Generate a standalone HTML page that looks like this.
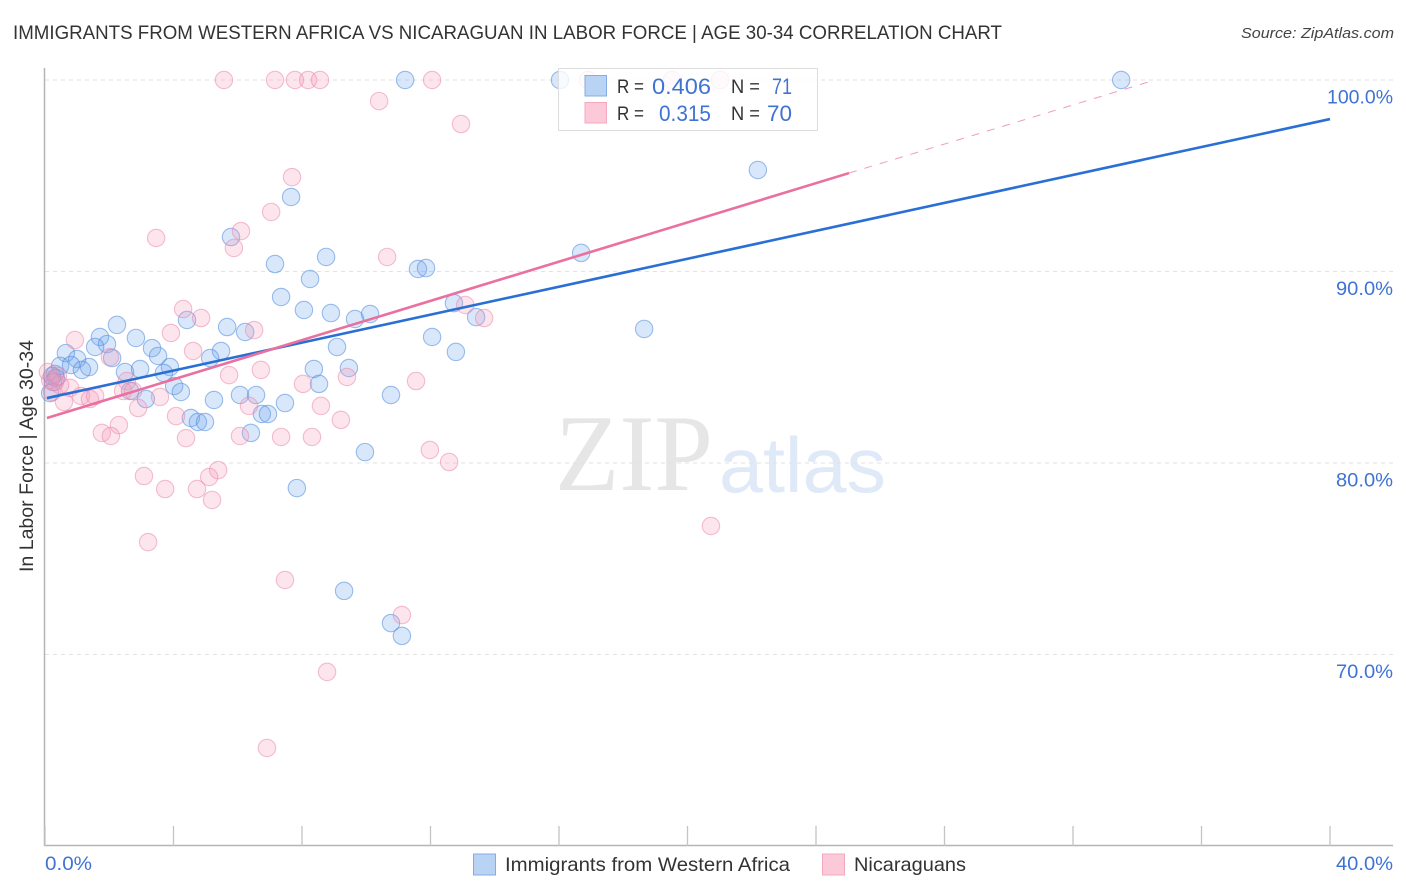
<!DOCTYPE html>
<html lang="en">
<head>
<meta charset="utf-8">
<title>Immigrants from Western Africa vs Nicaraguan in Labor Force | Age 30-34 Correlation Chart</title>
<style>
html,body{margin:0;padding:0;background:#fff;}
svg{display:block;font-family:"Liberation Sans",sans-serif;}
</style>
</head>
<body>
<svg id="chart" xmlns="http://www.w3.org/2000/svg" width="1406" height="892" viewBox="0 0 1406 892">
  <rect x="0" y="0" width="1406" height="892" fill="#ffffff"/>
  <text x="13" y="39" font-size="19" fill="#333333" textLength="989" lengthAdjust="spacingAndGlyphs">IMMIGRANTS FROM WESTERN AFRICA VS NICARAGUAN IN LABOR FORCE | AGE 30-34 CORRELATION CHART</text>
  <text x="1241" y="38" font-size="15" font-style="italic" fill="#444444" textLength="153" lengthAdjust="spacingAndGlyphs">Source: ZipAtlas.com</text>
  <g>
    <text x="555" y="490" font-family="'Liberation Serif',serif" font-size="109" fill="#e6e6e6" textLength="158" lengthAdjust="spacingAndGlyphs">ZIP</text>
    <text x="719" y="492" font-size="78" fill="#dfe9f8" textLength="167" lengthAdjust="spacingAndGlyphs">atlas</text>
  </g>
  <g id="grid"></g>
  <g id="axes"></g>
  <text transform="translate(33,572) rotate(-90)" font-size="19" fill="#333333" textLength="232" lengthAdjust="spacingAndGlyphs">In Labor Force | Age 30-34</text>
  <g id="points-blue"></g>
  <g id="points-pink"></g>
  <g id="trends"></g>
  <g>
    <rect x="558.5" y="68.5" width="259" height="62" fill="#ffffff" fill-opacity="0.8" stroke="#dddddd" stroke-width="1"/>
    <rect x="585" y="75.5" width="21.5" height="20.5" fill="#b9d3f5" stroke="#85ace4" stroke-width="1"/>
    <rect x="585" y="102.5" width="21.5" height="20.5" fill="#fcc9d8" stroke="#f3a9c2" stroke-width="1"/>
    <text x="617" y="93" font-size="19" fill="#333333" textLength="27" lengthAdjust="spacingAndGlyphs">R =</text>
    <text x="652" y="94" font-size="22" fill="#3f73d3" textLength="59" lengthAdjust="spacingAndGlyphs">0.406</text>
    <text x="731" y="93" font-size="19" fill="#333333" textLength="29" lengthAdjust="spacingAndGlyphs">N =</text>
    <text x="772" y="94" font-size="22" fill="#3f73d3" textLength="20" lengthAdjust="spacingAndGlyphs">71</text>
    <text x="617" y="120" font-size="19" fill="#333333" textLength="27" lengthAdjust="spacingAndGlyphs">R =</text>
    <text x="659" y="121" font-size="22" fill="#3f73d3" textLength="52" lengthAdjust="spacingAndGlyphs">0.315</text>
    <text x="731" y="120" font-size="19" fill="#333333" textLength="29" lengthAdjust="spacingAndGlyphs">N =</text>
    <text x="767" y="121" font-size="22" fill="#3f73d3" textLength="25" lengthAdjust="spacingAndGlyphs">70</text>
  </g>
  <g>
    <rect x="473.5" y="854" width="22" height="21" fill="#b9d3f5" stroke="#85ace4" stroke-width="1"/>
    <text x="505" y="871" font-size="19.5" fill="#333333" textLength="285" lengthAdjust="spacingAndGlyphs">Immigrants from Western Africa</text>
    <rect x="822.5" y="854" width="22" height="21" fill="#fcc9d8" stroke="#f3a9c2" stroke-width="1"/>
    <text x="854" y="871" font-size="19.5" fill="#333333" textLength="112" lengthAdjust="spacingAndGlyphs">Nicaraguans</text>
  </g>
</svg>
<script>
const xTickValues = [0,4,8,12,16,20,24,28,32,36,40];
const xEdgeLabels = ["0.0%","40.0%"];
const yTickValues = [100,90,80,70];
const yTickLabels = ["100.0%","90.0%","80.0%","70.0%"];

const blueX = [33.50,11.21,16.03,22.19,7.66,5.79,16.69,8.75,7.16,11.61,11.86,8.25,7.35,8.06,8.90,9.65,10.12,12.73,13.42,18.65,4.42,5.67,6.23,2.24,1.71,2.83,1.93,1.56,12.05,9.09,12.79,3.33,0.65,3.52,1.00,5.48,5.14,2.09,0.47,0.81,1.37,1.15,2.49,2.96,3.89,3.70,8.37,9.46,0.31,0.22,0.34,8.53,4.02,4.23,10.77,6.07,6.57,3.14,2.65,5.26,7.47,6.75,6.94,4.54,4.76,4.98,6.41,9.96,7.84,9.31,10.77,11.11,0.16,0.25];
const blueY = [100,100,100,95.30,93.89,91.80,90.97,90.76,90.39,90.13,90.18,89.61,88.67,87.99,87.83,87.52,87.78,88.35,87.62,87.00,87.47,87.10,86.84,87.21,86.58,86.53,86.21,86.06,86.58,86.06,85.80,86.00,85.74,85.59,85.43,85.85,85.48,85.48,85.07,85.12,85.01,84.86,84.75,84.91,85.01,84.70,84.91,84.96,84.65,84.54,84.44,84.13,84.02,83.71,83.55,83.55,83.55,83.34,83.76,83.29,83.13,82.56,82.56,82.35,82.14,82.14,81.57,80.57,78.69,73.32,71.64,70.97,83.65,84.23];

const pinkX = [5.57,7.16,7.78,8.19,8.56,12.05,16.90,19.52,21.01,10.40,12.95,7.69,7.04,6.10,3.46,5.88,10.65,13.08,4.30,4.86,13.67,3.92,6.51,0.93,4.61,2.02,5.73,6.72,8.03,9.40,11.55,2.55,2.43,2.74,8.59,9.21,4.08,6.35,2.90,3.58,0.59,0.78,1.12,1.40,1.56,0.47,0.31,0.16,0.09,0.40,0.22,2.30,1.77,2.05,4.39,6.07,7.35,8.31,11.98,12.58,3.08,5.11,5.39,3.74,4.73,5.20,3.21,20.73,7.47,11.11,8.78,6.91];
const pinkY = [100,100,100,100,100,100,100,100,100,98.90,97.70,94.93,93.11,92.11,91.75,91.23,90.76,88.25,88.04,87.57,87.57,86.79,86.94,86.42,85.85,85.53,84.59,84.86,84.13,84.49,84.28,84.28,83.76,83.76,82.98,82.25,82.45,82.98,82.87,83.45,83.19,83.92,83.50,83.34,83.50,84.07,84.23,84.33,84.75,84.54,83.71,81.98,81.57,81.41,81.30,81.41,81.36,81.36,80.68,80.05,79.32,79.27,79.63,78.64,78.64,78.07,75.87,76.71,73.89,72.06,69.09,65.12];

const blueTrendX = [0.06,40];
const blueTrendY = [83.39,97.96];
const pinkTrendX = [0.06,25.03];
const pinkTrendY = [82.35,95.14];
const pinkDashX = [25.03,34.55];
const pinkDashY = [95.14,100];

const SVGNS = "http://www.w3.org/2000/svg";
function xScale(v){ return 45 + v * 32.125; }
function yScale(v){ return 80 + (100 - v) * 19.15; }
function make(tag, parent, attrs){
  const el = document.createElementNS(SVGNS, tag);
  for (const k in attrs) el.setAttribute(k, attrs[k]);
  parent.appendChild(el);
  return el;
}

const grid = document.getElementById("grid");
yTickValues.forEach(function(v){
  const line = make("line", grid, {x1:45, x2:1393, y1:yScale(v), y2:yScale(v), stroke:"#e2e2e2", "stroke-width":1, "stroke-dasharray":"4 4"});
  
  
});

const axes = document.getElementById("axes");
const yAxisLine = make("line", axes, {x1:44.5, x2:44.5, y1:68, y2:846, stroke:"#b5b5b5", "stroke-width":1.5});


const xAxisLine = make("line", axes, {x1:44, x2:1393, y1:845.5, y2:845.5, stroke:"#b5b5b5", "stroke-width":1.5});


xTickValues.forEach(function(v){
  const t = make("line", axes, {x1:xScale(v), x2:xScale(v), y1:826, y2:846, stroke:"#c4c4c4", "stroke-width":1.3});
  
  
});
yTickValues.forEach(function(v, i){
  const t = make("text", axes, {x:1393, y:yScale(v)+23.4, "text-anchor":"end", "font-size":19.5, fill:"#3f73d3", textLength:yTickLabels[i].length === 6 ? 66 : 57, lengthAdjust:"spacingAndGlyphs"});
  t.textContent = yTickLabels[i];
  
  
});
const xLabelLeft = make("text", axes, {x:45, y:870, "font-size":19.5, fill:"#3f73d3", textLength:47, lengthAdjust:"spacingAndGlyphs"});
xLabelLeft.textContent = xEdgeLabels[0];


const xLabelRight = make("text", axes, {x:1393, y:870, "text-anchor":"end", "font-size":19.5, fill:"#3f73d3", textLength:57, lengthAdjust:"spacingAndGlyphs"});
xLabelRight.textContent = xEdgeLabels[1];



const blueGroup = document.getElementById("points-blue");
blueX.forEach(function(v, i){
  const c = make("circle", blueGroup, {cx:xScale(v), cy:yScale(blueY[i]), r:8.7, fill:"#6ea4ea", "fill-opacity":0.26, stroke:"#4f8ade", "stroke-opacity":0.55, "stroke-width":1.1});
  
  
});
const pinkGroup = document.getElementById("points-pink");
pinkX.forEach(function(v, i){
  const c = make("circle", pinkGroup, {cx:xScale(v), cy:yScale(pinkY[i]), r:8.7, fill:"#f59ab8", "fill-opacity":0.26, stroke:"#ec7fa6", "stroke-opacity":0.5, "stroke-width":1.1});
  
  
});

const trends = document.getElementById("trends");
const pinkDash = make("line", trends, {x1:xScale(pinkDashX[0]), y1:yScale(pinkDashY[0]), x2:xScale(pinkDashX[1]), y2:yScale(pinkDashY[1]), stroke:"#e9709f", "stroke-width":1, "stroke-dasharray":"8 8", "stroke-opacity":0.7});


const blueTrend = make("line", trends, {x1:xScale(blueTrendX[0]), y1:yScale(blueTrendY[0]), x2:xScale(blueTrendX[1]), y2:yScale(blueTrendY[1]), stroke:"#2a6fd6", "stroke-width":2.6});


const pinkTrend = make("line", trends, {x1:xScale(pinkTrendX[0]), y1:yScale(pinkTrendY[0]), x2:xScale(pinkTrendX[1]), y2:yScale(pinkTrendY[1]), stroke:"#e9709f", "stroke-width":2.6});


</script>
</body>
</html>
